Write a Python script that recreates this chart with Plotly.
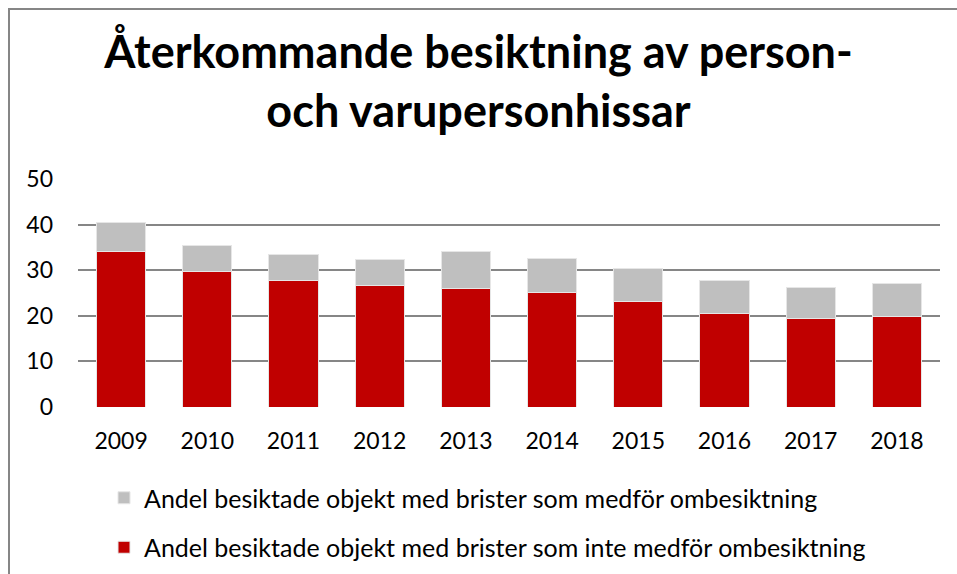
import plotly.graph_objects as go

years = ["2009", "2010", "2011", "2012", "2013", "2014", "2015", "2016", "2017", "2018"]
inte_ombesiktning = [34.1, 29.7, 27.7, 26.6, 25.9, 25.1, 23.1, 20.4, 19.4, 19.8]
medfor_ombesiktning = [6.3, 5.8, 5.7, 5.7, 8.2, 7.4, 7.2, 7.3, 6.8, 7.2]
y_ticks = [0, 10, 20, 30, 40, 50]

title_text = "Återkommande besiktning av person-<br>och varupersonhissar"
name_gray = "Andel besiktade objekt med brister som medför ombesiktning"
name_red = "Andel besiktade objekt med brister som inte medför ombesiktning"

FONT = "Lato"
W, H = 957, 574
L, R, T, B = 78, 17, 179, 167

fig = go.Figure()
fig.add_trace(go.Bar(
    x=years, y=inte_ombesiktning, name=name_red,
    marker=dict(color="#C00000", line=dict(color="#e6e6e6", width=1)),
    legendgroup="red", legendrank=2,
))
fig.add_trace(go.Bar(
    x=years, y=medfor_ombesiktning, name=name_gray,
    marker=dict(color="#BFBFBF", line=dict(color="#e6e6e6", width=1)),
    legendgroup="gray", legendrank=1,
))

pw = W - L - R
ph = H - T - B
fig.update_layout(
    width=W, height=H,
    barmode="stack", bargap=0.43,
    paper_bgcolor="white", plot_bgcolor="white",
    margin=dict(l=L, r=R, t=T, b=B, autoexpand=False),
    font=dict(family=FONT, color="#000000", size=23),
    title=dict(text=title_text, x=0.5, xanchor="center", xref="container",
               y=1 - 68 / H, yanchor="top", yref="container",
               font=dict(family=FONT, size=45, color="#000000", weight="bold")),
    xaxis=dict(type="category", showgrid=False, showline=False, zeroline=False,
               tickfont=dict(size=23), ticks="", ticklabelstandoff=18),
    yaxis=dict(range=[0, 50], tickvals=y_ticks, showgrid=True, gridcolor="#868686",
               gridwidth=1.5, zeroline=False, showline=False, ticks="",
               tickfont=dict(size=23), ticklabelstandoff=24),
    legend=dict(orientation="v", xref="container", x=104 / W, xanchor="left",
                yref="container", y=1 - 475 / H, yanchor="top",
                traceorder="grouped", tracegroupgap=14,
                font=dict(size=25), bgcolor="rgba(0,0,0,0)"),
    showlegend=True,
    shapes=[dict(type="rect", xref="paper", yref="paper",
                 x0=(9 - L) / pw, x1=(W + 20 - L) / pw,
                 y0=-(H + 20 - (H - B)) / ph, y1=((H - B) - 9) / ph,
                 line=dict(color="#868686", width=2), fillcolor="rgba(0,0,0,0)",
                 layer="below")],
)
fig.write_html("out.html", config={"displayModeBar": False},
               post_script="document.body.style.margin='0px';document.body.style.overflow='hidden';")
